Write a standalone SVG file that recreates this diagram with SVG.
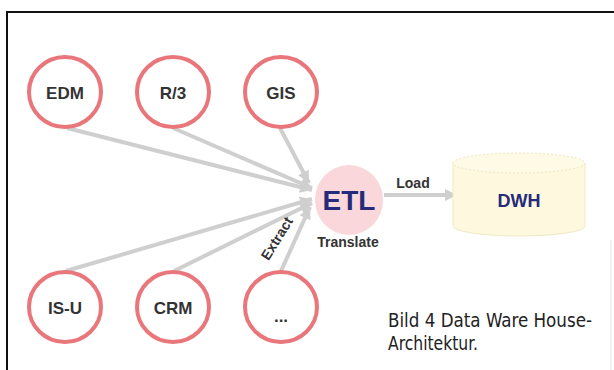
<svg xmlns="http://www.w3.org/2000/svg" width="614" height="370" viewBox="0 0 614 370">
<defs>
<style>
.src{fill:#ffffff;stroke:#e8767a;stroke-width:4}
.lbl{font-family:"Liberation Sans",Arial,sans-serif;font-weight:bold;font-size:17px;fill:#333;text-anchor:middle}
.con{stroke:#cfcfcf;stroke-width:4;fill:none;marker-end:url(#ah)}
.nav{font-family:"Liberation Sans",Arial,sans-serif;font-weight:bold;fill:#252b7a;text-anchor:middle}
.sm{font-family:"Liberation Sans",Arial,sans-serif;font-weight:bold;font-size:14px;fill:#333}
.cap{font-family:"Liberation Sans Narrow","DejaVu Sans Condensed","Liberation Sans",sans-serif;font-size:20px;fill:#222}
</style>
<marker id="ah" markerUnits="userSpaceOnUse" markerWidth="14" markerHeight="14" refX="12" refY="7" orient="auto">
<path d="M0,1 L12,7 L0,13 Z" fill="#cfcfcf"/>
</marker>
</defs>
<rect x="0" y="0" width="614" height="370" fill="#ffffff"/>
<path d="M7,370 V12 H614" fill="none" stroke="#111" stroke-width="2"/>
<line x1="611" y1="240" x2="611" y2="370" stroke="#e4e4e4" stroke-width="1"/>
<g id="connectors">
<line class="con" x1="67" y1="128" x2="312" y2="190"/>
<line class="con" x1="173" y1="128" x2="312" y2="188"/>
<line class="con" x1="280" y1="128" x2="309" y2="183"/>
<line class="con" x1="66" y1="271" x2="312" y2="199"/>
<line class="con" x1="174" y1="271" x2="312" y2="203"/>
<line class="con" x1="281" y1="271" x2="310" y2="207"/>
<line class="con" x1="384" y1="195" x2="457" y2="195"/>
</g>
<g id="edm"><ellipse class="src" cx="65" cy="92" rx="36" ry="35"/><text class="lbl" x="65" y="99">EDM</text></g>
<g id="r3"><ellipse class="src" cx="173" cy="92" rx="36" ry="35"/><text class="lbl" x="173" y="99">R/3</text></g>
<g id="gis"><ellipse class="src" cx="281" cy="92" rx="36" ry="35"/><text class="lbl" x="281" y="99">GIS</text></g>
<g id="isu"><ellipse class="src" cx="65" cy="307" rx="36" ry="35"/><text class="lbl" x="65" y="314">IS-U</text></g>
<g id="crm"><ellipse class="src" cx="173" cy="307" rx="36" ry="35"/><text class="lbl" x="173" y="314">CRM</text></g>
<g id="more"><ellipse class="src" cx="281" cy="307" rx="36" ry="35"/><text class="lbl" x="281" y="322">...</text></g>
<g id="etl">
<ellipse cx="349" cy="200" rx="34" ry="35" fill="#f9d7db"/>
<text class="nav" x="349" y="210" font-size="28">ETL</text>
<text class="sm" x="348" y="247" text-anchor="middle">Translate</text>
</g>
<text class="sm" x="413" y="188" text-anchor="middle">Load</text>
<text class="sm" transform="translate(281,241) rotate(-58)" text-anchor="middle">Extract</text>
<g id="dwh">
<path d="M453,163 V226 A66,10 0 0 0 585,226 V163" fill="#fdf8de" stroke="#f1e9c4" stroke-width="1"/>
<ellipse cx="519" cy="163" rx="66" ry="10" fill="#fefae6" stroke="#efe6bf" stroke-width="1" stroke-dasharray="2,2"/>
<text class="nav" x="519" y="207" font-size="18">DWH</text>
</g>
<text class="cap" x="388" y="327" textLength="204" lengthAdjust="spacingAndGlyphs">Bild 4  Data Ware House-</text>
<text class="cap" x="388" y="350" textLength="90" lengthAdjust="spacingAndGlyphs">Architektur.</text>
</svg>
